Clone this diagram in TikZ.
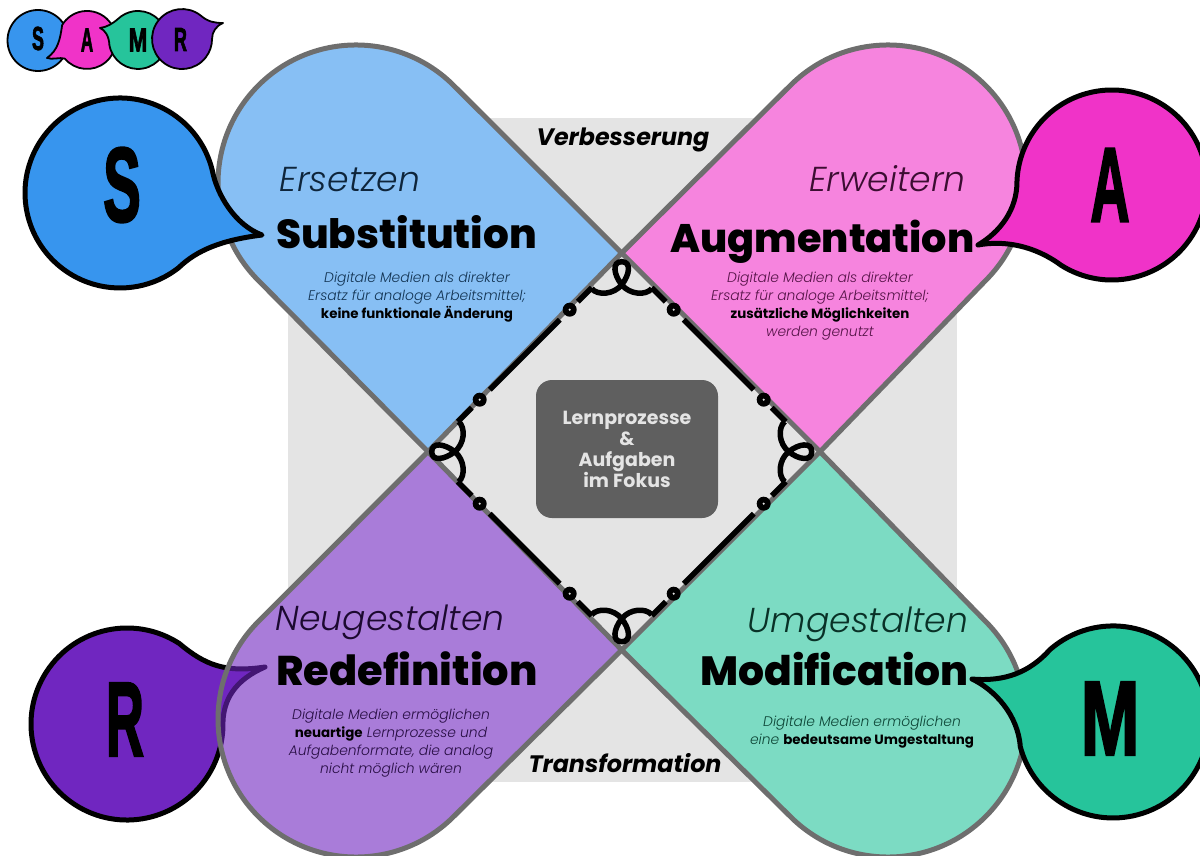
\documentclass[tikz,border=0pt]{standalone}
\usepackage{fontspec}
\setmainfont{Poppins}
\newfontfamily\thinfont{Poppins Light}
\newfontfamily\titlefont{Poppins ExtraBold}
\newfontfamily\heavyfont[FakeBold=2.5]{Liberation Sans}
\definecolor{sblue}{HTML}{3795EE}
\definecolor{apink}{HTML}{F033C8}
\definecolor{mgreen}{HTML}{26C49B}
\definecolor{rpurple}{HTML}{7026C0}
\definecolor{edgegray}{HTML}{6E6E6E}
\definecolor{squaregray}{HTML}{E4E4E4}
\definecolor{focusgray}{HTML}{5F5F5F}
\newcommand{\bigletter}[2]{\scalebox{#1}[1.65]{\heavyfont\bfseries\fontsize{64}{64}\selectfont #2}}
\newcommand{\smallletter}[2]{\scalebox{#1}[1.85]{\heavyfont\bfseries\fontsize{18}{18}\selectfont #2}}
\newcommand{\keyword}[1]{{\normalfont\bfseries\color{black}\fontsize{13.4}{18}\selectfont #1}}
\tikzset{
  petalwhite/.style={fill=white,draw=none},
  petal/.style={fill opacity=0.6,draw=edgegray,line width=5pt,draw opacity=1,line join=round},
  bubble/.style={draw=black,line width=5pt,line join=round},
  logobubble/.style={draw=black,line width=1.8pt,line join=round},
  german/.style={anchor=base,font=\thinfont\itshape\fontsize{34.6}{36}\selectfont,text=black!75!#1},
  english/.style={anchor=base,font=\titlefont\fontsize{#1}{39}\selectfont,text=black},
  blurb/.style={font=\thinfont\itshape\fontsize{13.9}{18.2}\selectfont,text=black!65!#1,align=center},
  axis label/.style={anchor=base,font=\itshape\bfseries\fontsize{23.8}{24}\selectfont,text=black},
  ornament/.style={black,line width=5.5pt}
}
\begin{document}
\begin{tikzpicture}[x=1pt,y=-1pt]
    \useasboundingbox (0,0) rectangle (1200,856);
    \fill[squaregray] (288,118) rectangle (957,782);
    \newcommand{\bluepath}{(621.7,253) -- (453.6,85.4) arc[start angle=45,end angle=225,radius=138pt] -- (428,451.7) -- cycle}
    \newcommand{\pinkpath}{(621.7,253) -- (790.4,85.4) arc[start angle=135,end angle=-45,radius=138pt] -- (820,451.7) -- cycle}
    \newcommand{\purplepath}{(621.7,650) -- (453.6,816.6) arc[start angle=-45,end angle=-225,radius=138pt] -- (428,451.7) -- cycle}
    \newcommand{\greenpath}{(621.7,650) -- (790.4,816.6) arc[start angle=225,end angle=405,radius=138pt] -- (820,451.7) -- cycle}
    \path[petalwhite] \bluepath;
    \path[petalwhite] \pinkpath;
    \path[petalwhite] \purplepath;
    \path[petalwhite] \greenpath;
    \draw[bubble,fill=rpurple] (179.3,643.5) arc[start angle=57,delta angle=301,radius=96pt]
      .. controls (222,700) and (235,680) .. (265,667)
      .. controls (225,673) and (205,665) .. (179.3,643.5) -- cycle;
    \draw[petal,fill=sblue] \bluepath;
    \draw[petal,fill=apink] \pinkpath;
    \draw[petal,fill=rpurple] \purplepath;
    \draw[petal,fill=mgreen] \greenpath;
    \draw[bubble,fill=sblue] (212.2,170) arc[start angle=14,delta angle=294,radius=95pt]
      .. controls (197,250) and (222,240) .. (262,235)
      .. controls (235,225) and (217,195) .. (212.2,170) -- cycle;
    \draw[bubble,fill=apink] (1061,265.2) arc[start angle=237.6,delta angle=300.4,radius=95pt]
      .. controls (1017,210) and (1000,232) .. (978,245)
      .. controls (1005,240) and (1035,246) .. (1061,265.2) -- cycle;
    \draw[bubble,fill=mgreen] (1020.3,746.8) arc[start angle=195,delta angle=296,radius=96pt]
      .. controls (1030,672) and (1005,682) .. (972,679)
      .. controls (995,690) and (1018,715) .. (1020.3,746.8) -- cycle;
    \foreach \r in {0,90,180,270} {
      \begin{scope}[shift={(621.7,451.7)},rotate=\r]
        \draw[ornament] (-30,-163) .. controls (-24,-156) and (-8,-157) .. (0,-167)
          .. controls (8,-177) and (10,-190) .. (0,-190)
          .. controls (-10,-190) and (-8,-177) .. (0,-167)
          .. controls (8,-157) and (24,-156) .. (30,-163);
        \draw[ornament] (30,-164) -- (44,-150);
        \fill[black] (52,-142) circle[radius=7pt];
        \fill[squaregray] (52,-142) circle[radius=1.2pt];
        \draw[ornament] (62,-132) -- (132,-62);
        \fill[black] (142,-52) circle[radius=7pt];
        \fill[squaregray] (142,-52) circle[radius=1.2pt];
        \draw[ornament] (150,-44) -- (164,-30);
      \end{scope}
    }
    \node (focus) [fill=focusgray,rounded corners=16pt,minimum width=182pt,minimum height=138pt,
      text=squaregray,align=center,font=\bfseries\fontsize{19}{21}\selectfont] at (627,449)
      {Lernprozesse\\\&\\Aufgaben\\im Fokus};
    \node (verb) [axis label] at (623,146) {Verbesserung};
    \node (trans) [axis label] at (625,772) {Transformation};
    \node (ersetzen) [german=sblue] at (350,192) {Ersetzen};
    \node (subst) [english=40.5] at (406.5,248) {Substitution};
    \node (substtext) [blurb=sblue] at (417,297) {Digitale Medien als direkter\\Ersatz für analoge Arbeitsmittel;\\\keyword{keine funktionale Änderung}};
    \node (erweitern) [german=apink] at (887.5,192) {Erweitern};
    \node (augm) [english=39.8] at (822.5,252) {Augmentation};
    \node (augmtext) [blurb=apink] at (820,306) {Digitale Medien als direkter\\Ersatz für analoge Arbeitsmittel;\\\keyword{zusätzliche Möglichkeiten}\\werden genutzt};
    \node (neu) [german=rpurple] at (390,630) {Neugestalten};
    \node (redef) [english=41.5] at (407,685) {Redefinition};
    \node (redeftext) [blurb=rpurple] at (391,743) {Digitale Medien ermöglichen\\\keyword{neuartige} Lernprozesse und\\Aufgabenformate, die analog\\nicht möglich wären};
    \node (um) [german=mgreen] at (858,632) {Umgestalten};
    \node (modif) [english=40.8] at (834.5,685) {Modification};
    \node (modiftext) [blurb=mgreen] at (862,732) {Digitale Medien ermöglichen\\eine \keyword{bedeutsame Umgestaltung}};
    \node (bigS) at (122,185) {\bigletter{0.88}{S}};
    \node (bigA) at (1110,185) {\bigletter{0.85}{A}};
    \node (bigR) at (125,719.5) {\bigletter{0.82}{R}};
    \node (bigM) at (1110,718.5) {\bigletter{1.1}{M}};
    \draw[logobubble,fill=sblue] (38,40.5) circle[radius=30.5pt];
    \draw[logobubble,fill=apink] (64.8,58.6) arc[start angle=220,delta angle=289,radius=29pt]
      .. controls (60,40) and (58,50) .. (47,58)
      .. controls (52,60) and (60,57) .. (64.8,58.6) -- cycle;
    \draw[logobubble,fill=mgreen] (109.4,45) arc[start angle=190,delta angle=303.7,radius=29pt]
      .. controls (112,24) and (107,27) .. (100,28)
      .. controls (105,30) and (109,36) .. (109.4,45) -- cycle;
    \draw[logobubble,fill=rpurple] (200.5,15.4) arc[start angle=52,delta angle=308,radius=30pt]
      .. controls (212,32) and (216,26) .. (223,23)
      .. controls (215,23) and (208,22) .. (200.5,15.4) -- cycle;
    \node (logoS) at (38,38.5) {\smallletter{1.0}{S}};
    \node (logoA) at (87,40) {\smallletter{0.95}{A}};
    \node (logoM) at (138,40) {\smallletter{1.25}{M}};
    \node (logoR) at (180.5,39.5) {\smallletter{1.0}{R}};
\end{tikzpicture}
\end{document}
